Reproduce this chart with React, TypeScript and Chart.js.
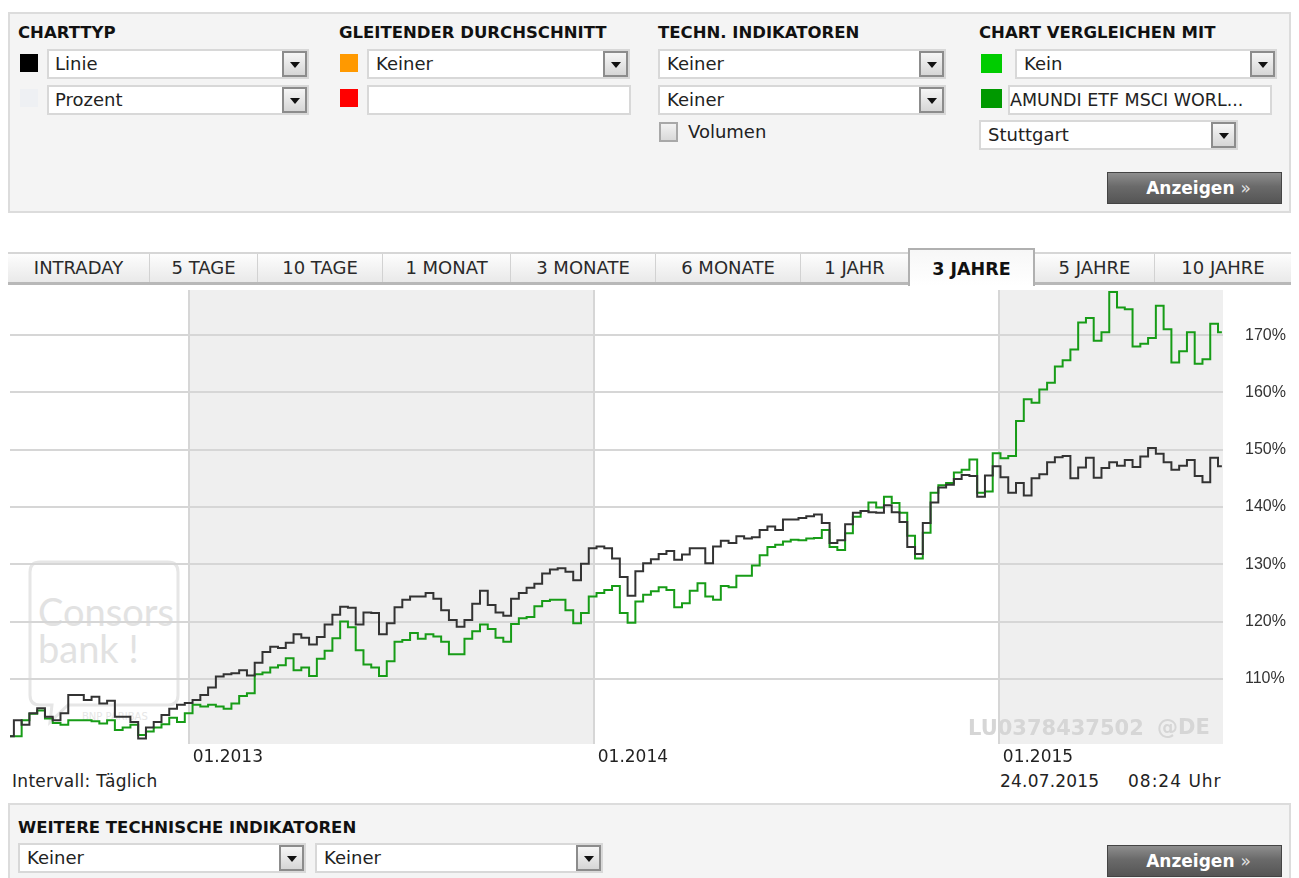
import React, { useEffect, useRef } from 'react';
import { Chart, registerables } from 'chart.js';

Chart.register(...registerables);

const FONT = '"DejaVu Sans", Verdana, sans-serif';

// ---- data (weekly samples starting 24.07.2012, values in % of start) ----
const weekStepDays = 7;
const mainValues = [
  100, 102.8, 102, 104, 104.9, 103.4, 102.8, 104, 107.2, 107.2,
  106.3, 106.9, 105.7, 106.2, 103.4, 103.4, 102.5, 99.6, 101.5, 102.5,
  103.7, 104.8, 105.5, 105.8, 106.3, 107.2, 108.5, 110.4, 110.8, 111,
  111.5, 110.6, 112.8, 114.7, 115.6, 115.4, 116.3, 117.8, 117.2, 116,
  117.3, 119.5, 121.2, 122.6, 122.4, 119.5, 121.6, 121.5, 117.8, 119.7,
  122.5, 123.8, 124.4, 124.4, 125, 124, 122, 120.3, 119.1, 120.3,
  123.1, 125.4, 122.9, 121.6, 121, 124, 125, 125.9, 126.6, 128.4,
  129.1, 129.3, 128.7, 127.2, 130.1, 132.8, 133.1, 132.8, 131, 127.8,
  124.5, 128.8, 130.2, 130.9, 131.8, 132.3, 130.8, 131.7, 132.8, 132.8,
  130.2, 133.1, 134.1, 133.7, 134.9, 134.5, 134.7, 136, 136.6, 136,
  137.8, 137.8, 138.1, 138.4, 138.7, 137.2, 133.7, 134.2, 137, 139,
  139.3, 139.1, 139, 140.3, 139.1, 137.4, 133, 131.8, 137.2, 140.8,
  143.4, 143.9, 144.9, 145.6, 145.4, 141.8, 145.5, 147.1, 145.2, 142.5,
  144.2, 142, 145, 145.7, 147.8, 148.7, 148.9, 145, 146.9, 148.6,
  145.1, 146.8, 147.8, 147.2, 148.2, 147, 148.8, 150.3, 149.3, 147.8,
  146.5, 147.2, 148.2, 145.4, 144.3, 148.6, 147.1,
];
const compareValues = [
  100, 100, 102.8, 103.9, 104.5, 103.1, 102.3, 102, 102.8, 102.8,
  102.8, 102.6, 102.2, 102.8, 101.1, 101.5, 102, 100.2, 100.8, 101.5,
  102.1, 103.2, 102.5, 104, 105.5, 105.2, 105.5, 105.2, 104.8, 105.7,
  107, 107.5, 110.8, 111.1, 112, 112.4, 113.6, 111.5, 112, 110.5,
  113.5, 114.9, 117.1, 120, 119, 115, 112.5, 112, 110.5, 113.1,
  116.5, 116.8, 118, 117, 117.8, 117.4, 116.5, 114.3, 114.3, 117,
  118.3, 119.5, 118.7, 117.2, 116.5, 119.6, 120.6, 120.8, 122.7, 123.6,
  123.8, 123.8, 122, 119.7, 121.5, 124.4, 125, 125.5, 126.2, 121.5,
  119.8, 123.5, 124.7, 125.3, 126, 125.5, 122.5, 123.2, 125.4, 126.7,
  124.4, 123.8, 126.2, 126, 128, 128, 129.8, 131.6, 133, 133.4,
  134, 134.3, 134.2, 134.5, 134.6, 136, 133, 132.5, 135.4, 138.3,
  139.3, 140.8, 139.9, 141.8, 140.7, 139, 135, 131, 135.5, 142.5,
  143.8, 144.2, 146, 146.5, 148.3, 142.5, 142.7, 149.4, 148.5, 148.9,
  155, 158.8, 158.2, 160.5, 161.7, 164.5, 165.6, 167.5, 172.2, 173,
  169, 170.5, 177.5, 174.8, 174.5, 168, 168.5, 169.5, 175.1, 171,
  165.2, 167.2, 170.5, 165, 165.8, 172, 170.5,
];
const yearTickDays = [161, 526, 891];
const yearTickLabels = ['01.2013', '01.2014', '01.2015'];
const percentTicks = [110, 120, 130, 140, 150, 160, 170];
const shadedRanges: [number, number][] = [[161, 526], [891, 1093]];
const xRange = [0, 1093];
const yRange = [98.64, 177.87];

const tabLabels = ['INTRADAY', '5 TAGE', '10 TAGE', '1 MONAT', '3 MONATE', '6 MONATE', '1 JAHR', '3 JAHRE', '5 JAHRE', '10 JAHRE'];
const tabEdges = [8, 150, 258, 383, 511, 656, 801, 908, 1035, 1155, 1291];
const activeTab = 7;

// ---- small UI helpers ----
type TxtProps = { x: number; cy: number; size?: number; bold?: boolean; color?: string; family?: string; children: React.ReactNode; style?: React.CSSProperties };
const Txt = ({ x, cy, size = 18, bold = false, color = '#222', family = FONT, children, style = {} }: TxtProps) => (
  <div style={{ position: 'absolute', left: x, top: cy - size / 2, fontSize: size, lineHeight: `${size}px`, fontWeight: bold ? 700 : 400, color, whiteSpace: 'nowrap', fontFamily: family, ...style }}>
    {children}
  </div>
);

const Square = ({ x, y, w = 18, h = 18, color }: { x: number; y: number; w?: number; h?: number; color: string }) => (
  <div style={{ position: 'absolute', left: x, top: y, width: w, height: h, background: color }} />
);

const Select = ({ x, y, w, h = 30, text = '', arrow = true, textX = 8, size = 18 }: { x: number; y: number; w: number; h?: number; text?: string; arrow?: boolean; textX?: number; size?: number }) => (
  <div style={{ position: 'absolute', left: x, top: y, width: w, height: h, boxSizing: 'border-box', background: '#fff', border: '2px solid #d8d8d8' }}>
    <div style={{ position: 'absolute', left: textX - 2, top: 0, height: h - 4, lineHeight: `${h - 4}px`, fontSize: size, color: '#222', fontFamily: FONT, whiteSpace: 'nowrap' }}>{text}</div>
    {arrow && (
      <div style={{ position: 'absolute', right: 0, top: 0, width: 25, height: h - 4, boxSizing: 'border-box', border: '2px solid #8c8c8c', background: 'linear-gradient(#f6f6f6, #d6d6d6)' }}>
        <div style={{ position: 'absolute', left: 6, top: 9, width: 0, height: 0, borderLeft: '5px solid transparent', borderRight: '5px solid transparent', borderTop: '6px solid #111' }} />
      </div>
    )}
  </div>
);

const Button = ({ x, y }: { x: number; y: number }) => (
  <div style={{ position: 'absolute', left: x, top: y, width: 175, height: 32, boxSizing: 'border-box', border: '1px solid #444', background: 'linear-gradient(#8e8e8e 0%, #6a6a6a 45%, #555 100%)', color: '#fff', fontFamily: FONT, fontWeight: 700, fontSize: 17, lineHeight: '30px', textAlign: 'center', paddingLeft: 8, whiteSpace: 'nowrap' }}>
    Anzeigen <span style={{ fontWeight: 400, color: '#e0e0e0' }}>»</span>
  </div>
);

// ---- chart ----
const shadePlugin = {
  id: 'yearShade',
  beforeDraw(chart: any) {
    const { ctx, chartArea, scales } = chart;
    const xs = scales.x;
    ctx.save();
    ctx.fillStyle = '#efefef';
    for (const [a, b] of shadedRanges) {
      const x0 = Math.max(xs.getPixelForValue(a), chartArea.left);
      const x1 = Math.min(xs.getPixelForValue(b), chartArea.right);
      ctx.fillRect(x0, chartArea.top, x1 - x0, chartArea.bottom - chartArea.top);
    }
    ctx.restore();
  },
};

function PriceChart() {
  const ref = useRef<HTMLCanvasElement>(null);
  useEffect(() => {
    if (!ref.current) return;
    const chart = new Chart(ref.current, {
      type: 'line',
      data: {
        datasets: [
          {
            label: 'LU0378437502',
            data: mainValues.map((v, i) => ({ x: i * weekStepDays, y: v })),
            borderColor: '#333333',
            borderWidth: 2,
            pointRadius: 0,
            stepped: 'middle',
            fill: false,
          },
          {
            label: 'AMUNDI ETF MSCI WORLD',
            data: compareValues.map((v, i) => ({ x: i * weekStepDays, y: v })),
            borderColor: '#179c17',
            borderWidth: 2,
            pointRadius: 0,
            stepped: 'middle',
            fill: false,
          },
        ],
      },
      options: {
        animation: false,
        responsive: false,
        events: [],
        layout: { padding: { left: 10, top: 4, right: 0, bottom: 0 } },
        plugins: { legend: { display: false }, tooltip: { enabled: false } },
        scales: {
          x: {
            type: 'linear',
            min: xRange[0],
            max: xRange[1],
            afterBuildTicks: (s: any) => { s.ticks = yearTickDays.map((v) => ({ value: v })); },
            afterFit: (s: any) => { s.height = 30; s.paddingLeft = 0; s.paddingRight = 0; },
            ticks: {
              callback: (_v: any, i: number) => yearTickLabels[i] ?? '',
              align: 'start',
              labelOffset: 4,
              padding: 3,
              maxRotation: 0,
              autoSkip: false,
              color: '#222',
              font: { family: FONT, size: 17 },
            },
            grid: { color: '#d6d6d6', lineWidth: 2, drawTicks: false },
            border: { display: false },
          },
          y: {
            position: 'right',
            min: yRange[0],
            max: yRange[1],
            afterBuildTicks: (s: any) => { s.ticks = percentTicks.map((v) => ({ value: v })); },
            afterFit: (s: any) => { s.width = 76; s.paddingTop = 0; s.paddingBottom = 0; },
            ticks: {
              callback: (v: any) => `${v}%`,
              padding: 22,
              color: '#333',
              font: { family: '"Liberation Sans", Arial, sans-serif', size: 16 },
            },
            grid: { color: '#d6d6d6', lineWidth: 2, drawTicks: false },
            border: { display: false },
          },
        },
      },
      plugins: [shadePlugin],
    } as any);
    return () => chart.destroy();
  }, []);
  return <canvas ref={ref} width={1299} height={488} style={{ position: 'absolute', left: 0, top: 286, width: 1299, height: 488, zIndex: 1 }} />;
}

const ConsorsMark = () => (
  <svg width={170} height={180} style={{ position: 'absolute', left: 26, top: 558, zIndex: 0 }}>
    <path d="M 14 4 H 142 Q 152 4 152 14 V 137 Q 152 147 142 147 H 42 L 24 164 L 26 147 H 14 Q 4 147 4 137 V 14 Q 4 4 14 4 Z" fill="none" stroke="#e6e6e6" strokeWidth={3} />
    <text x={12} y={68} fontFamily="Lato, 'Open Sans', sans-serif" fontSize={38} fill="#e2e2e2">Consors</text>
    <text x={12} y={105} fontFamily="Lato, 'Open Sans', sans-serif" fontSize={38} fill="#e2e2e2">bank !</text>
    <text x={56} y={162} fontFamily={FONT} fontSize={10} fill="#e6e6e6">BNP PARIBAS</text>
  </svg>
);

export default function App() {
  return (
    <div style={{ position: 'absolute', left: 0, top: 0, width: 1299, height: 878, overflow: 'hidden', background: '#fff', fontFamily: FONT }}>
      {/* top settings panel */}
      <div style={{ position: 'absolute', left: 8, top: 12, width: 1283, height: 201, boxSizing: 'border-box', background: '#f4f4f4', border: '2px solid #dcdcdc' }} />
      <Txt x={18} cy={33} size={16.5} bold color="#111">CHARTTYP</Txt>
      <Txt x={339} cy={33} size={16.5} bold color="#111">GLEITENDER DURCHSCHNITT</Txt>
      <Txt x={658} cy={33} size={16.5} bold color="#111">TECHN. INDIKATOREN</Txt>
      <Txt x={979} cy={33} size={16.5} bold color="#111">CHART VERGLEICHEN MIT</Txt>

      <Square x={20} y={54} color="#000" />
      <Select x={47} y={49} w={262} text="Linie" />
      <Square x={20} y={89} color="#eef0f3" />
      <Select x={47} y={85} w={262} text="Prozent" />

      <Square x={340} y={54} color="#ff9900" />
      <Select x={367} y={49} w={263} text="Keiner" textX={9} />
      <Square x={340} y={89} color="#ff0000" />
      <Select x={367} y={85} w={264} arrow={false} />

      <Select x={658} y={49} w={288} text="Keiner" textX={9} />
      <Select x={658} y={85} w={288} text="Keiner" textX={9} />
      <div style={{ position: 'absolute', left: 659, top: 122, width: 19, height: 20, boxSizing: 'border-box', border: '2px solid #a8a8a8', background: 'linear-gradient(#f2f2f2, #d9d9d9)' }} />
      <Txt x={688} cy={132} size={18}>Volumen</Txt>

      <Square x={981} y={54} w={21} h={19} color="#00cc00" />
      <Select x={1015} y={49} w={262} text="Kein" textX={9} />
      <Square x={981} y={89} w={21} h={19} color="#009900" />
      <Select x={1008} y={85} w={264} text="AMUNDI ETF MSCI WORL..." arrow={false} textX={2} size={17.5} />
      <Select x={979} y={120} w={259} text="Stuttgart" textX={9} />
      <Button x={1107} y={172} />

      {/* tabs */}
      <div style={{ position: 'absolute', left: 8, top: 252, width: 1283, height: 33, boxSizing: 'border-box', borderTop: '2px solid #d6d6d6', borderBottom: '3px solid #b8b8b8', background: 'linear-gradient(#fdfdfd, #e9e9e9)' }} />
      {tabLabels.map((t, i) => {
        const l = tabEdges[i];
        const r = tabEdges[i + 1];
        const active = i === activeTab;
        if (active) {
          return (
            <div key={t} style={{ position: 'absolute', left: l, top: 248, width: r - l, height: 38, boxSizing: 'border-box', border: '2px solid #b0b0b0', borderBottom: 'none', background: 'linear-gradient(#f7f7f7, #ffffff)', zIndex: 2 }}>
              <div style={{ position: 'absolute', left: 0, right: 0, top: 11, textAlign: 'center', fontSize: 17.5, lineHeight: '17.5px', fontWeight: 700, color: '#111', fontFamily: FONT }}>{t}</div>
            </div>
          );
        }
        return (
          <div key={t} style={{ position: 'absolute', left: l, top: 254, width: r - l, height: 28, boxSizing: 'border-box', borderRight: i < tabLabels.length - 1 && i + 1 !== activeTab ? '1px solid #d2d2d2' : 'none' }}>
            <div style={{ position: 'absolute', left: 0, right: 0, top: 5, textAlign: 'center', fontSize: 18, lineHeight: '18px', color: '#2a2a2a', fontFamily: FONT }}>{t}</div>
          </div>
        );
      })}

      {/* chart */}
      <ConsorsMark />
      <PriceChart />
      <Txt x={968} cy={728} size={21} bold color="#d6d6d6" style={{ zIndex: 2 }}>LU0378437502</Txt>
      <Txt x={1157} cy={727} size={21} bold color="#d6d6d6" style={{ zIndex: 2 }}>@DE</Txt>

      <Txt x={12} cy={781} size={17} style={{ letterSpacing: 0.3 }}>Intervall: Täglich</Txt>
      <Txt x={1000} cy={781} size={17} style={{ letterSpacing: 0.2 }}>24.07.2015</Txt>
      <Txt x={1128} cy={781} size={17} style={{ letterSpacing: 1 }}>08:24 Uhr</Txt>

      {/* bottom panel */}
      <div style={{ position: 'absolute', left: 8, top: 803, width: 1283, height: 90, boxSizing: 'border-box', background: '#f4f4f4', border: '2px solid #dcdcdc' }} />
      <Txt x={18} cy={828} size={16.5} bold color="#111">WEITERE TECHNISCHE INDIKATOREN</Txt>
      <Select x={18} y={843} w={288} text="Keiner" textX={9} />
      <Select x={315} y={843} w={288} text="Keiner" textX={9} />
      <Button x={1107} y={845} />
    </div>
  );
}
